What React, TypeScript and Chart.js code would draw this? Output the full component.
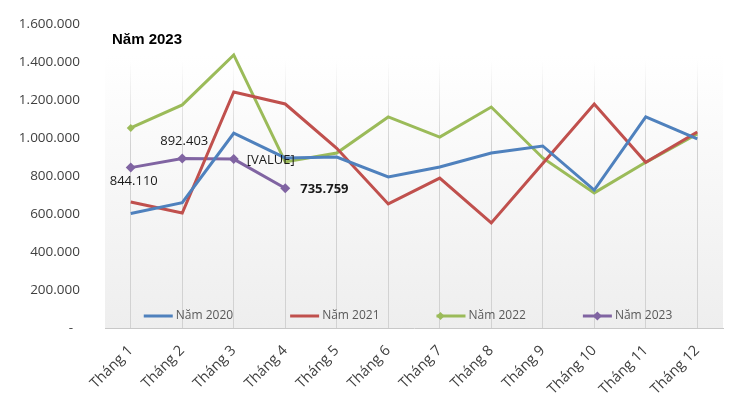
import React, { useEffect, useRef } from 'react';
import { Chart, registerables } from 'chart.js';

Chart.register(...registerables);

const categories = ['Tháng 1', 'Tháng 2', 'Tháng 3', 'Tháng 4', 'Tháng 5', 'Tháng 6', 'Tháng 7', 'Tháng 8', 'Tháng 9', 'Tháng 10', 'Tháng 11', 'Tháng 12'];
const seriesNames = ['Năm 2020', 'Năm 2021', 'Năm 2022', 'Năm 2023'];
const values2020 = [603000, 660000, 1025000, 895000, 900000, 795000, 847000, 921000, 958000, 726000, 1111000, 995000];
const values2021 = [663000, 605000, 1242000, 1179000, 946000, 653000, 789000, 553000, 866000, 1179000, 872000, 1032000];
const values2022 = [1053000, 1174000, 1437000, 874000, 921000, 1111000, 1005000, 1163000, 895000, 711000, 872000, 1022000];
const values2023 = [844110, 892403, 889000, 735759];
const labels2023 = ['844.110', '892.403', '[VALUE]', '735.759'];
const chartTitle = 'Năm 2023';
const yMin = 0;
const yMax = 1600000;
const yStep = 200000;

const COLORS = ['#4F81BD', '#C0504D', '#9BBB59', '#8064A2'];
const TICK_FONT = '"Open Sans", "DejaVu Sans", sans-serif';

function formatThousands(v: number): string {
  if (v === 0) return '-  ';
  return String(Math.round(v)).replace(/\B(?=(\d{3})+(?!\d))/g, '.');
}

const backgroundPlugin = {
  id: 'plotBackground',
  beforeDraw(chart: any) {
    const ca = chart.chartArea;
    if (!ca) return;
    const ctx = chart.ctx;
    const g = ctx.createLinearGradient(0, ca.top, 0, ca.bottom);
    g.addColorStop(0, '#ffffff');
    g.addColorStop(0.1, '#ffffff');
    g.addColorStop(1, '#eeeeee');
    ctx.save();
    ctx.fillStyle = g;
    ctx.fillRect(ca.left, ca.top, ca.right - ca.left, ca.bottom - ca.top);
    ctx.restore();
  },
};

const overlayPlugin = {
  id: 'overlayTexts',
  afterDatasetsDraw(chart: any) {
    const ctx = chart.ctx;
    const ca = chart.chartArea;
    ctx.save();
    // Title
    ctx.font = 'bold 15px "Liberation Sans", Arial, sans-serif';
    ctx.fillStyle = '#000000';
    ctx.textAlign = 'left';
    ctx.textBaseline = 'middle';
    ctx.fillText(chartTitle, ca.left + 7, 40);

    // Data labels for 2023
    const meta = chart.getDatasetMeta(3);
    const placements = [
      { dx: 3, dy: 14, align: 'center', bold: false },
      { dx: 2, dy: -17, align: 'center', bold: false },
      { dx: 13, dy: 1, align: 'left', bold: false },
      { dx: 15, dy: 1, align: 'left', bold: true },
    ];
    labels2023.forEach((txt, i) => {
      const el = meta.data[i];
      if (!el) return;
      const p = placements[i];
      ctx.font = (p.bold ? 'bold ' : '') + '13px ' + TICK_FONT;
      ctx.fillStyle = '#1a1a1a';
      ctx.textAlign = p.align;
      ctx.textBaseline = 'middle';
      ctx.fillText(txt, el.x + p.dx, el.y + p.dy);
    });

    // Legend inside plot area (bottom)
    ctx.font = '12px ' + TICK_FONT;
    const lineLen = 29;
    const textGap = 3;
    const itemGap = 57;
    const widths = seriesNames.map((n) => ctx.measureText(n).width);
    const total = widths.reduce((a, w) => a + lineLen + textGap + w, 0) + itemGap * (seriesNames.length - 1);
    let x = (ca.left + ca.right) / 2 - 6 - total / 2;
    const y = ca.bottom - 12;
    seriesNames.forEach((n, i) => {
      ctx.strokeStyle = COLORS[i];
      ctx.lineWidth = 3;
      ctx.beginPath();
      ctx.moveTo(x, y);
      ctx.lineTo(x + lineLen, y);
      ctx.stroke();
      if (i >= 2) {
        const cx = i === 2 ? x + 4 : x + lineLen / 2;
        const r = i === 2 ? 4 : 4.5;
        ctx.fillStyle = COLORS[i];
        ctx.beginPath();
        ctx.moveTo(cx, y - r);
        ctx.lineTo(cx + r, y);
        ctx.lineTo(cx, y + r);
        ctx.lineTo(cx - r, y);
        ctx.closePath();
        ctx.fill();
      }
      ctx.fillStyle = '#595959';
      ctx.textAlign = 'left';
      ctx.textBaseline = 'middle';
      ctx.fillText(n, x + lineLen + textGap, y);
      x += lineLen + textGap + widths[i] + itemGap;
    });
    ctx.restore();
  },
};

export default function App() {
  const canvasRef = useRef<HTMLCanvasElement | null>(null);

  useEffect(() => {
    const canvas = canvasRef.current;
    if (!canvas) return;
    const greenRadii = values2022.map((_, i) => (i === 0 ? 4 : 0));
    const chart = new Chart(canvas, {
      type: 'line',
      data: {
        labels: categories,
        datasets: [
          { label: seriesNames[0], data: values2020, borderColor: COLORS[0], backgroundColor: COLORS[0], borderWidth: 3, pointRadius: 0, tension: 0 },
          { label: seriesNames[1], data: values2021, borderColor: COLORS[1], backgroundColor: COLORS[1], borderWidth: 3, pointRadius: 0, tension: 0 },
          { label: seriesNames[2], data: values2022, borderColor: COLORS[2], backgroundColor: COLORS[2], borderWidth: 3, pointRadius: greenRadii, pointStyle: 'rectRot', pointBorderWidth: 0, tension: 0 },
          { label: seriesNames[3], data: values2023, borderColor: COLORS[3], backgroundColor: COLORS[3], borderWidth: 3, pointRadius: 5, pointStyle: 'rectRot', pointBorderWidth: 0, tension: 0 },
        ],
      },
      options: {
        responsive: false,
        animation: false,
        layout: { padding: { top: 24, right: 15, bottom: 0, left: 0 } },
        plugins: {
          legend: { display: false },
          title: { display: false },
          tooltip: { enabled: false },
        },
        scales: {
          x: {
            offset: true,
            afterFit: (scale: any) => { scale.height = 72; },
            grid: {
              display: true,
              offset: false,
              drawTicks: false,
              color: (c: any) => {
                const ch = c.chart;
                const ca = ch.chartArea;
                if (!ca) return '#d9d9d9';
                const g = ch.ctx.createLinearGradient(0, ca.top, 0, ca.bottom);
                g.addColorStop(0, 'rgba(210,210,210,0)');
                g.addColorStop(0.12, 'rgba(210,210,210,0)');
                g.addColorStop(0.4, 'rgba(210,210,210,1)');
                g.addColorStop(1, 'rgba(210,210,210,1)');
                return g;
              },
              lineWidth: 1,
            },
            border: { display: true, color: '#c8c8c8', width: 1 },
            ticks: {
              autoSkip: false,
              minRotation: 45,
              maxRotation: 45,
              padding: 14,
              color: '#404040',
              font: { family: TICK_FONT, size: 14.5 },
            },
          },
          y: {
            min: yMin,
            max: yMax,
            afterFit: (scale: any) => {
              scale.width = 105;
              scale.paddingTop = 8;
              scale.paddingBottom = 8;
            },
            grid: { display: false, drawTicks: false },
            border: { display: false },
            ticks: {
              stepSize: yStep,
              padding: 25,
              color: '#404040',
              font: { family: TICK_FONT, size: 13.5 },
              callback: (v: any) => formatThousands(Number(v)),
            },
          },
        },
      },
      plugins: [backgroundPlugin, overlayPlugin],
    });
    return () => chart.destroy();
  }, []);

  return (
    <div style={{ position: 'absolute', left: 0, top: 0, width: 738, height: 400, background: '#ffffff' }}>
      <canvas ref={canvasRef} width={738} height={400} style={{ display: 'block', width: 738, height: 400 }} />
    </div>
  );
}
